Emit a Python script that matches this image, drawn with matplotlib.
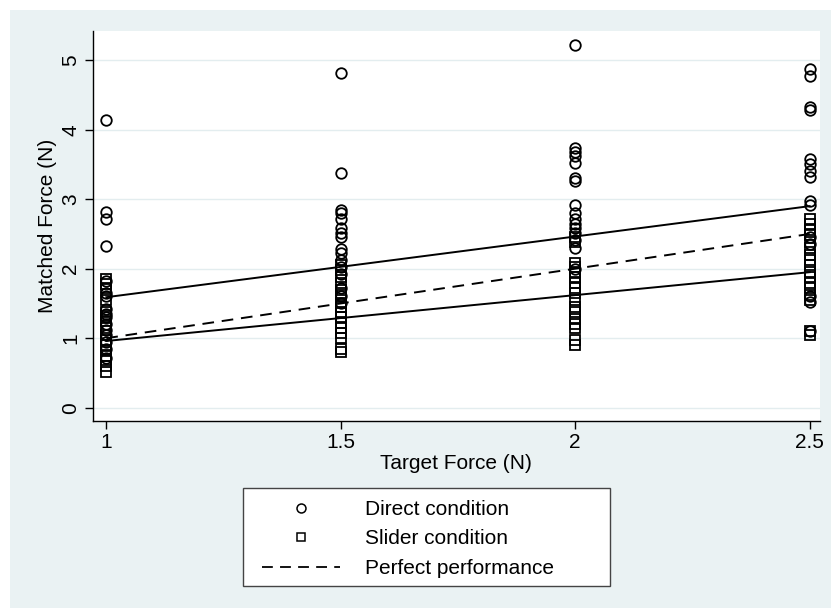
import matplotlib
matplotlib.use("Agg")
import matplotlib.pyplot as plt
from matplotlib.lines import Line2D
from matplotlib.patches import Rectangle
import numpy as np

plt.rcParams['font.family'] = ['Liberation Sans', 'DejaVu Sans']

# ---- data ----
targets = [1.0, 1.5, 2.0, 2.5]
direct_1 = [4.14, 2.82, 2.72, 2.32, 1.83, 1.65, 1.60, 1.42, 1.35, 1.30, 1.20, 1.12, 1.05, 0.95, 0.85, 0.72]
slider_1 = [1.85, 1.78, 1.72, 1.55, 1.38, 1.32, 1.25, 1.15, 1.05, 0.98, 0.90, 0.82, 0.75, 0.68, 0.60, 0.52]
direct_15 = [4.82, 3.38, 2.85, 2.80, 2.72, 2.58, 2.52, 2.45, 2.28, 2.22, 2.12, 2.02, 1.92, 1.72, 1.60, 1.50]
slider_15 = [2.05, 1.98, 1.88, 1.80, 1.70, 1.62, 1.50, 1.45, 1.38, 1.30, 1.22, 1.15, 1.08, 1.00, 0.85, 0.80]
direct_2 = [5.22, 3.74, 3.68, 3.62, 3.52, 3.30, 3.26, 2.92, 2.80, 2.72, 2.65, 2.58, 2.52, 2.42, 2.30, 2.00]
slider_2 = [2.45, 2.38, 2.08, 2.02, 1.95, 1.88, 1.80, 1.72, 1.65, 1.55, 1.45, 1.38, 1.28, 1.20, 1.15, 0.98, 0.90]
direct_25 = [4.88, 4.77, 4.32, 4.28, 3.58, 3.50, 3.40, 3.32, 2.98, 2.92, 2.45, 2.35, 1.60, 1.52, 1.10]
slider_25 = [2.72, 2.65, 2.55, 2.48, 2.38, 2.30, 2.20, 2.12, 2.05, 1.95, 1.88, 1.80, 1.72, 1.62, 1.55, 1.10, 1.05]
direct_by_target = [direct_1, direct_15, direct_2, direct_25]
slider_by_target = [slider_1, slider_15, slider_2, slider_25]

fit_x = [1.0, 2.5]
direct_fit = [1.59, 2.90]
slider_fit = [0.96, 1.95]
perfect = [1.0, 2.5]

xticks = [1, 1.5, 2, 2.5]
xticklabels = ['1', '1.5', '2', '2.5']
yticks = [0, 1, 2, 3, 4, 5]
yticklabels = ['0', '1', '2', '3', '4', '5']
legend_labels = ['Direct condition', 'Slider condition', 'Perfect performance']

# ---- figure ----
W, H = 831, 608
fig = plt.figure(figsize=(W / 100, H / 100), dpi=100, facecolor='white')
bg = '#EAF2F3'
fig.patches.append(Rectangle((10 / W, 0), 1 - 10 / W, 1 - 10 / H, transform=fig.transFigure,
                             facecolor=bg, edgecolor='none', zorder=-10))
# legend frame
fig.patches.append(Rectangle((243 / W, 1 - 586 / H), (610 - 243) / W, (586 - 488) / H,
                             transform=fig.transFigure, facecolor='white',
                             edgecolor='#444444', linewidth=1.0, zorder=-5))

ax = fig.add_axes([92.7 / W, 1 - 420.7 / H, (820 - 92.7) / W, (420.7 - 31) / H])
ax.set_zorder(1)
ax.set_facecolor('white')

FS = 15
MS_C, MS_S, MEW = 7.6, 7.0, 1.3

for t, d, s in zip(targets, direct_by_target, slider_by_target):
    ax.plot([t] * len(d), d, linestyle='none', marker='o', markersize=MS_C,
            markerfacecolor='none', markeredgecolor='black', markeredgewidth=MEW, zorder=3)
    ax.plot([t] * len(s), s, linestyle='none', marker='s', markersize=MS_S,
            markerfacecolor='none', markeredgecolor='black', markeredgewidth=MEW, zorder=3)

ax.plot(fit_x, direct_fit, color='black', linewidth=1.4, zorder=4)
ax.plot(fit_x, slider_fit, color='black', linewidth=1.4, zorder=4)
ax.plot(fit_x, perfect, color='black', linewidth=1.4, linestyle=(0, (6, 4)), zorder=4)

ax.set_xlim(0.971, 2.522)
ax.set_ylim(-0.187, 5.42)
ax.set_xticks(xticks)
ax.set_xticklabels(xticklabels, fontsize=FS)
ax.set_yticks(yticks)
ax.set_yticklabels(yticklabels, fontsize=FS, rotation=90, va='center')
ax.grid(axis='y', color='#E3EDEF', linewidth=1.0, zorder=0)
ax.set_axisbelow(True)
for side in ['top', 'right']:
    ax.spines[side].set_visible(False)
for side in ['left', 'bottom']:
    ax.spines[side].set_linewidth(1.0)
    ax.spines[side].set_color('black')
ax.tick_params(direction='out', length=6, width=1.0, pad=3)
ax.set_xlabel('Target Force (N)', fontsize=FS, labelpad=1)
ax.set_ylabel('Matched Force (N)', fontsize=FS, labelpad=3)

handles = [
    Line2D([], [], linestyle='none', marker='o', markersize=MS_C * 0.85, markerfacecolor='none',
           markeredgecolor='black', markeredgewidth=1.1),
    Line2D([], [], linestyle='none', marker='s', markersize=MS_S * 0.85, markerfacecolor='none',
           markeredgecolor='black', markeredgewidth=1.1),
    Line2D([], [], color='black', linewidth=1.3, linestyle=(0, (6, 4))),
]
leg = fig.legend(handles, legend_labels, loc='upper left',
                 bbox_to_anchor=(262 / W, 1 - 500 / H),
                 fontsize=FS, frameon=False,
                 handlelength=3.75, handletextpad=1.2, labelspacing=0.5,
                 borderpad=0, borderaxespad=0)

fig.savefig('out.png', dpi=100, facecolor='white')
